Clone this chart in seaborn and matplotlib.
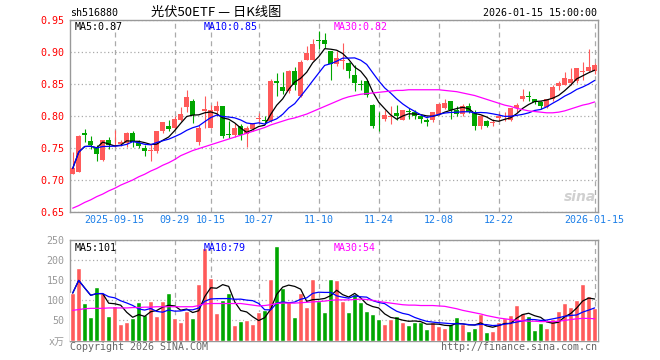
import numpy as np
import pandas as pd
import matplotlib
matplotlib.use("Agg")
import matplotlib.pyplot as plt
import seaborn as sns

sns.set_theme(style="white")
plt.rcParams["font.family"] = ["DejaVu Sans Mono", "Noto Sans CJK SC"]

# --- data (88 trading days, 2025-09-04 .. 2026-01-15) ---
tick_idx = [7, 17, 23, 31, 41, 51, 61, 71, 87]
tick_labels = ["2025-09-15", "09-29", "10-15", "10-27", "11-10",
               "11-24", "12-08", "12-22", "2026-01-15"]

opens = [0.710, 0.713, 0.774, 0.761, 0.751, 0.732, 0.763, 0.753, 0.756, 0.758,
         0.774, 0.758, 0.750, 0.745, 0.746, 0.776, 0.785, 0.781, 0.793, 0.814,
         0.824, 0.760, 0.808, 0.782, 0.808, 0.815, 0.772, 0.771, 0.785, 0.772,
         0.779, 0.795, 0.793, 0.792, 0.855, 0.845, 0.839, 0.871, 0.831, 0.888,
         0.888, 0.918, 0.919, 0.902, 0.881, 0.886, 0.883, 0.864, 0.850, 0.855,
         0.817, 0.791, 0.796, 0.798, 0.805, 0.794, 0.808, 0.807, 0.800, 0.794,
         0.794, 0.803, 0.812, 0.824, 0.809, 0.803, 0.815, 0.807, 0.784, 0.792,
         0.789, 0.797, 0.798, 0.794, 0.812, 0.826, 0.831, 0.827, 0.822, 0.814,
         0.826, 0.847, 0.849, 0.852, 0.854, 0.868, 0.870, 0.870]
closes = [0.718, 0.769, 0.770, 0.754, 0.740, 0.763, 0.754, 0.755, 0.760, 0.774,
          0.760, 0.753, 0.745, 0.746, 0.776, 0.790, 0.779, 0.795, 0.803, 0.829,
          0.801, 0.781, 0.811, 0.810, 0.815, 0.768, 0.771, 0.782, 0.770, 0.781,
          0.789, 0.796, 0.792, 0.855, 0.852, 0.839, 0.870, 0.849, 0.885, 0.899,
          0.913, 0.917, 0.912, 0.881, 0.891, 0.887, 0.871, 0.852, 0.849, 0.833,
          0.784, 0.790, 0.801, 0.800, 0.800, 0.809, 0.807, 0.800, 0.795, 0.790,
          0.806, 0.818, 0.821, 0.810, 0.803, 0.816, 0.807, 0.784, 0.800, 0.785,
          0.790, 0.800, 0.799, 0.812, 0.817, 0.832, 0.830, 0.822, 0.815, 0.826,
          0.846, 0.852, 0.859, 0.858, 0.875, 0.870, 0.876, 0.879]
highs = [0.743, 0.770, 0.780, 0.768, 0.755, 0.763, 0.767, 0.778, 0.762, 0.775,
         0.776, 0.763, 0.755, 0.756, 0.777, 0.791, 0.794, 0.800, 0.814, 0.840,
         0.827, 0.786, 0.831, 0.817, 0.823, 0.815, 0.792, 0.789, 0.787, 0.784,
         0.789, 0.805, 0.800, 0.858, 0.867, 0.868, 0.872, 0.876, 0.888, 0.910,
         0.921, 0.933, 0.930, 0.902, 0.901, 0.914, 0.884, 0.880, 0.857, 0.855,
         0.818, 0.806, 0.810, 0.815, 0.817, 0.810, 0.812, 0.809, 0.802, 0.797,
         0.807, 0.821, 0.827, 0.824, 0.816, 0.818, 0.820, 0.809, 0.801, 0.793,
         0.795, 0.804, 0.807, 0.812, 0.820, 0.842, 0.839, 0.827, 0.824, 0.827,
         0.849, 0.854, 0.868, 0.875, 0.875, 0.884, 0.904, 0.883]
lows = [0.709, 0.712, 0.759, 0.749, 0.729, 0.730, 0.749, 0.751, 0.753, 0.752,
        0.752, 0.750, 0.738, 0.730, 0.742, 0.774, 0.776, 0.779, 0.792, 0.807,
        0.789, 0.755, 0.781, 0.781, 0.802, 0.765, 0.766, 0.767, 0.763, 0.751,
        0.776, 0.789, 0.787, 0.790, 0.831, 0.834, 0.836, 0.841, 0.829, 0.887,
        0.887, 0.904, 0.907, 0.857, 0.878, 0.873, 0.860, 0.839, 0.841, 0.829,
        0.781, 0.776, 0.792, 0.788, 0.794, 0.793, 0.796, 0.796, 0.789, 0.784,
        0.790, 0.802, 0.811, 0.795, 0.800, 0.800, 0.805, 0.778, 0.780, 0.783,
        0.784, 0.792, 0.792, 0.792, 0.807, 0.824, 0.823, 0.819, 0.811, 0.812,
        0.824, 0.840, 0.848, 0.849, 0.852, 0.856, 0.868, 0.866]
volume = [118, 181, 93, 58, 133, 118, 62, 86, 40, 45,
          56, 95, 64, 98, 60, 98, 118, 56, 45, 74,
          55, 140, 231, 156, 68, 100, 118, 39, 48, 50,
          41, 70, 75, 153, 235, 131, 95, 59, 118, 83,
          153, 99, 70, 153, 150, 98, 70, 115, 97, 74,
          66, 53, 41, 53, 61, 45, 39, 45, 45, 29,
          47, 37, 31, 40, 59, 40, 24, 31, 65, 21,
          24, 45, 57, 64, 88, 69, 61, 26, 44, 31,
          53, 74, 93, 84, 100, 140, 111, 81]
# 30-day averages depend on history before the window, so read directly
ma30_price = [0.656, 0.660, 0.665, 0.669, 0.674, 0.678, 0.683, 0.687, 0.692, 0.696,
              0.700, 0.705, 0.709, 0.714, 0.718, 0.723, 0.727, 0.732, 0.738, 0.742,
              0.746, 0.749, 0.752, 0.755, 0.758, 0.761, 0.764, 0.767, 0.770, 0.773,
              0.776, 0.779, 0.782, 0.786, 0.789, 0.792, 0.795, 0.797, 0.800, 0.803,
              0.807, 0.811, 0.815, 0.819, 0.823, 0.827, 0.830, 0.832, 0.834, 0.835,
              0.836, 0.837, 0.838, 0.839, 0.840, 0.840, 0.841, 0.841, 0.841, 0.841,
              0.841, 0.841, 0.840, 0.839, 0.838, 0.836, 0.834, 0.832, 0.829, 0.826,
              0.823, 0.820, 0.817, 0.815, 0.812, 0.810, 0.808, 0.807, 0.806, 0.805,
              0.805, 0.806, 0.808, 0.811, 0.814, 0.817, 0.819, 0.822]
ma30_vol = [75, 77, 79, 80, 80, 80, 81, 81, 81, 81,
            82, 82, 83, 83, 84, 84, 84, 84, 84, 84,
            84, 87, 91, 92, 92, 92, 92, 92, 92, 90,
            88, 86, 87, 89, 92, 93, 93, 93, 94, 95,
            96, 97, 98, 100, 101, 101, 101, 102, 103, 102,
            100, 97, 95, 93, 91, 89, 88, 88, 87, 87,
            87, 86, 85, 82, 79, 75, 72, 69, 66, 62,
            59, 56, 54, 52, 50, 49, 48, 48, 47, 47,
            47, 48, 50, 52, 54, 55, 55, 54]

RED, GREEN, GRID = "#ff5a5a", "#00a600", "#aaaaaa"

df = pd.DataFrame({"open": opens, "close": closes, "high": highs, "low": lows,
                   "vol": volume, "ma30": ma30_price, "vma30": ma30_vol})
df["i"] = np.arange(len(df))
df["dir"] = np.where(df["close"] >= df["open"], "up", "down")
df["ma5"] = df["close"].rolling(5, min_periods=1).mean()
df["ma10"] = df["close"].rolling(10, min_periods=1).mean()
df["vma5"] = df["vol"].rolling(5, min_periods=1).mean()
df["vma10"] = df["vol"].rolling(10, min_periods=1).mean()
colors = np.where(df["dir"] == "up", RED, GREEN)

W, H = 660, 360
fig = plt.figure(figsize=(W / 100, H / 100), dpi=100)
ax = fig.add_axes([70 / W, 1 - 212 / H, 527.5 / W, 192 / H])
axv = fig.add_axes([70 / W, 1 - 340.5 / H, 527.5 / W, 100.5 / H])

# --- candles ---
ax.vlines(df["i"], df["low"], df["high"], colors=colors, lw=0.8, zorder=3)
body_lo = df[["open", "close"]].min(axis=1)
body_h = (df["close"] - df["open"]).abs().clip(lower=0.0012)
ax.bar(df["i"], body_h, bottom=body_lo, width=0.8, color=colors, lw=0, zorder=3)
for col, c in [("ma5", "black"), ("ma10", "#0000ff"), ("ma30", "#ff00ff")]:
    sns.lineplot(data=df, x="i", y=col, color=c, lw=0.9, ax=ax, zorder=4)

# --- volume ---
sns.barplot(data=df, x="i", y="vol", hue="dir", palette={"up": RED, "down": GREEN},
            native_scale=True, width=0.8, dodge=False, errorbar=None,
            saturation=1, legend=False, ax=axv, zorder=3)
for col, c in [("vma5", "black"), ("vma10", "#0000ff"), ("vma30", "#ff00ff")]:
    sns.lineplot(data=df, x="i", y=col, color=c, lw=0.9, ax=axv, zorder=4)

xl = (-0.45, 87.47)
for a in (ax, axv):
    a.set_xlim(*xl)
    a.set_xticks(tick_idx)
    a.set_xlabel(""); a.set_ylabel("")
    a.grid(False)
    a.xaxis.grid(True, ls=(0, (4, 3)), color=GRID, lw=0.9)
    a.yaxis.grid(True, ls=(0, (1, 2)), color=GRID, lw=0.9)
    a.set_axisbelow(True)
    for s in a.spines.values():
        s.set_color("#999999"); s.set_linewidth(1)
    a.tick_params(length=0, pad=4)

ax.set_ylim(0.65, 0.95)
ax.set_yticks([0.65, 0.70, 0.75, 0.80, 0.85, 0.90, 0.95])
ax.set_yticklabels([f"{v:.2f}" for v in ax.get_yticks()], color="#ff0000", fontsize=7.2)
ax.set_xticklabels(tick_labels, color="#1c7fe8", fontsize=7.2)
ax.tick_params(axis="x", pad=2)

axv.set_ylim(0, 250)
axv.set_yticks([0, 50, 100, 150, 200, 250])
axv.set_yticklabels(["x万", "50", "100", "150", "200", "250"], color="#999999", fontsize=7.2)
axv.set_xticklabels([])

# --- texts ---
def ft(x, y, s, **kw):
    fig.text(x / W, 1 - y / H, s, va="center", **kw)

ft(70, 13, "sh516880", fontsize=7.2, color="black")
ft(216, 12, "光伏50ETF — 日K线图", fontsize=9.5, color="black", ha="center",
   family=["Noto Sans CJK SC", "DejaVu Sans"])
ft(597, 13, "2026-01-15 15:00:00", fontsize=7.2, color="black", ha="right")
ft(75, 27, "MA5:0.87", fontsize=7.2, color="black")
ft(204, 27, "MA10:0.85", fontsize=7.2, color="#0000ff")
ft(334, 27, "MA30:0.82", fontsize=7.2, color="#ff00ff")
ft(75, 248, "MA5:101", fontsize=7.2, color="black")
ft(204, 248, "MA10:79", fontsize=7.2, color="#0000ff")
ft(334, 248, "MA30:54", fontsize=7.2, color="#ff00ff")
ft(70, 347, "Copyright 2026 SINA.COM", fontsize=7.2, color="#666666")
ft(597, 347, "http://finance.sina.com.cn", fontsize=7.2, color="#666666", ha="right")
ft(596, 197, "sina", fontsize=10, color="#d0d0d0", ha="right",
   family="DejaVu Sans", fontweight="bold", fontstyle="italic")

fig.savefig("out.png", dpi=100, facecolor="white")
